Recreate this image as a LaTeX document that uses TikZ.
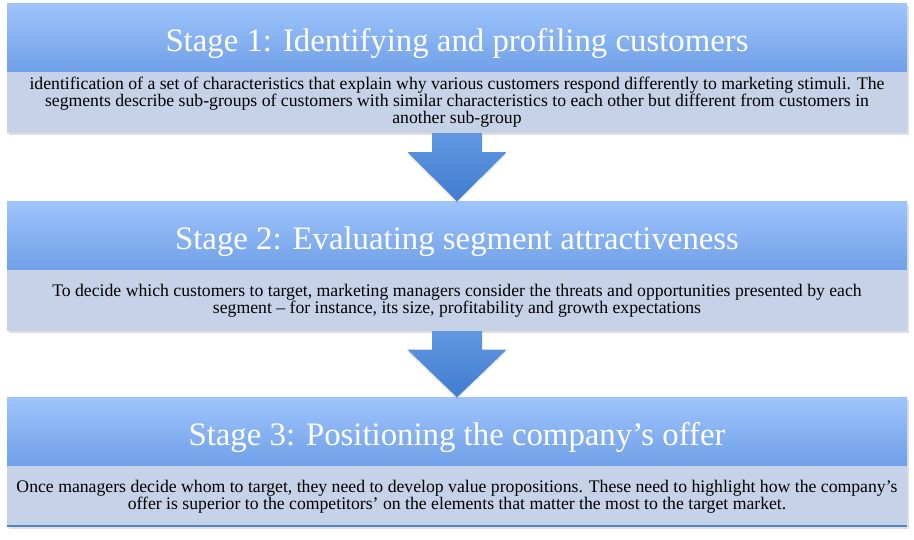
\documentclass[tikz,border=0pt]{standalone}
\usepackage{fontspec}
\setmainfont{Liberation Serif}
\usetikzlibrary{positioning,calc,shadows}
\definecolor{headtop}{RGB}{158,196,251}
\definecolor{headbot}{RGB}{112,160,232}
\definecolor{bodyfill}{RGB}{198,210,232}
\definecolor{arrowtop}{RGB}{98,152,226}
\definecolor{arrowbot}{RGB}{64,124,206}
\definecolor{edgeblue}{RGB}{72,134,208}
\tikzset{
  stagehead/.style={minimum width=900pt,minimum height=68pt,inner sep=0pt,
    text height=30pt,text depth=3pt,
    top color=headtop,bottom color=headbot,text=white,font=\fontsize{32.8}{36}\selectfont,
    drop shadow={opacity=0.25,shadow xshift=1.5pt,shadow yshift=-2.5pt}},
  stagebody/.style={minimum width=900pt,minimum height=61pt,inner sep=0pt,fill=bodyfill,
    align=center,font=\fontsize{17.7}{16.8}\selectfont,
    drop shadow={opacity=0.25,shadow xshift=1.5pt,shadow yshift=-2.5pt}},
  downarrow/.style={top color=arrowtop,bottom color=arrowbot,
    drop shadow={opacity=0.2,shadow xshift=0pt,shadow yshift=-2pt}}
}
\begin{document}
\begin{tikzpicture}[x=1pt,y=-1pt]
  \useasboundingbox (0,0) rectangle (914,539);
  \node[stagehead] (h1) at (457,37.5) {Stage 1: Identifying and profiling customers};
  \node[stagebody,below=0pt of h1] (b1) {identification of a set of characteristics that explain why various customers respond differently to marketing stimuli. The\\
    segments describe sub-groups of customers with similar characteristics to each other but different from customers in\\
    another sub-group};
  \node[stagehead] (h2) at (457,235.5) {Stage 2: Evaluating segment attractiveness};
  \node[stagebody,below=0pt of h2] (b2) {To decide which customers to target, marketing managers consider the threats and opportunities presented by each\\
    segment -- for instance, its size, profitability and growth expectations};
  \node[stagehead] (h3) at (457,431.5) {Stage 3: Positioning the company’s offer};
  \node[stagebody,below=0pt of h3] (b3) {Once managers decide whom to target, they need to develop value propositions. These need to highlight how the company’s\\
    offer is superior to the competitors’ on the elements that matter the most to the target market.};
  \draw[edgeblue,line width=2pt] ($(b3.south west)+(0,-1)$) -- ($(b3.south east)+(0,-1)$);
  % arrows between the stages
  \foreach \a/\b in {b1/h2,b2/h3}{
    \shade[downarrow] ($(\a.south)+(-25,0)$) -- ($(\a.south)+(25,0)$)
      -- ($(\a.south)!0.28!(\b.north)+(25,0)$) -- ($(\a.south)!0.28!(\b.north)+(49.5,0)$)
      -- (\b.north) -- ($(\a.south)!0.28!(\b.north)+(-49.5,0)$)
      -- ($(\a.south)!0.28!(\b.north)+(-25,0)$) -- cycle;
  }
\end{tikzpicture}
\end{document}
